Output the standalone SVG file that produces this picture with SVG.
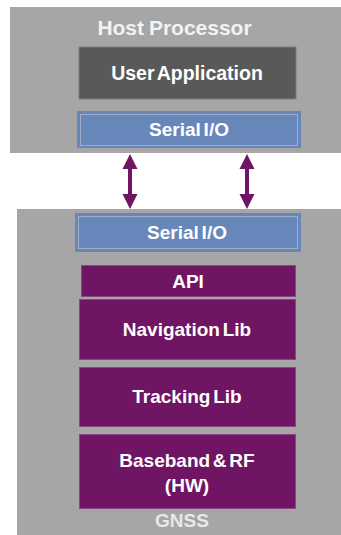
<svg xmlns="http://www.w3.org/2000/svg" width="341" height="535" viewBox="0 0 341 535">
<style>
.t{font-family:"Liberation Sans",Arial,sans-serif;font-weight:bold;fill:#ffffff;text-anchor:middle;font-size:19px;word-spacing:-2.5px}
.sio{fill:#6787BA;stroke:#6787BA;stroke-width:1}
.sioin{fill:none;stroke:#A3ADC2;stroke-width:1}
.pur{fill:#701563;stroke:#8B4582;stroke-width:1}
.arr{fill:#701563}
</style>
<rect width="341" height="535" fill="#ffffff"/>
<g id="host">
<rect x="10" y="7" width="331" height="146" fill="#A6A6A6"/>
<text class="t" x="174.5" y="35" style="font-size:21px;word-spacing:-1px;fill:#F2F2F2">Host Processor</text>
</g>
<g id="user-app">
<rect x="79" y="47" width="217" height="52" fill="#595959" stroke="#7F7F7F" stroke-width="1"/>
<text class="t" x="187" y="80" style="font-size:19.5px">User Application</text>
</g>
<g id="serial-host">
<rect class="sio" x="77.5" y="111.5" width="223" height="36"/>
<rect class="sioin" x="80.5" y="114.5" width="217" height="31"/>
<text class="t" x="189" y="136">Serial I/O</text>
</g>
<g id="gnss">
<rect x="17" y="209" width="324" height="326" fill="#A6A6A6"/>
<text class="t" x="182" y="527" style="fill:#E8E8E8">GNSS</text>
</g>
<g id="serial-gnss">
<rect class="sio" x="75.5" y="213.5" width="225" height="38"/>
<rect class="sioin" x="78.5" y="216.5" width="219" height="32"/>
<text class="t" x="187" y="239">Serial I/O</text>
</g>
<g id="api">
<rect class="pur" x="81.5" y="265.5" width="214" height="31"/>
<text class="t" x="188" y="288">API</text>
</g>
<g id="nav">
<rect class="pur" x="79.5" y="299.5" width="216" height="60"/>
<text class="t" x="187" y="336">Navigation Lib</text>
</g>
<g id="track">
<rect class="pur" x="79.5" y="367.5" width="216" height="59"/>
<text class="t" x="187" y="403">Tracking Lib</text>
</g>
<g id="baseband">
<rect class="pur" x="79.5" y="434.5" width="216" height="74"/>
<text class="t" x="187" y="467">Baseband &amp; RF</text>
<text class="t" x="187" y="492">(HW)</text>
</g>
<g id="connectors">
<path class="arr" d="M130 154 L137.5 169 L132 169 L132 194 L137.5 194 L130 209 L122.5 194 L128 194 L128 169 L122.5 169 Z"/>
<path class="arr" d="M247 154 L254.5 169 L249 169 L249 194 L254.5 194 L247 209 L239.5 194 L245 194 L245 169 L239.5 169 Z"/>
</g>
</svg>
